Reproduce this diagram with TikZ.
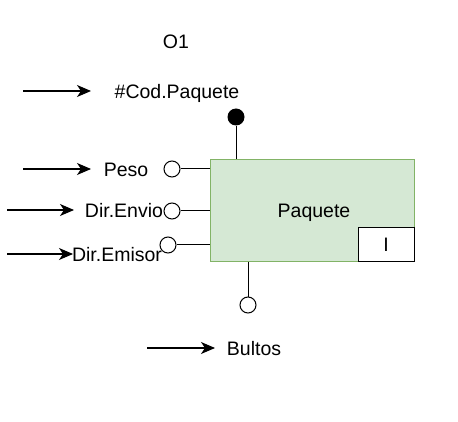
\documentclass[tikz,border=0pt]{standalone}
\usepackage{fontspec}
\setmainfont{Liberation Sans}
\usetikzlibrary{arrows.meta}
\definecolor{verde}{HTML}{D5E8D4}
\definecolor{borde}{HTML}{82B366}
\tikzset{
  etiq/.style={font=\fontsize{19.5}{23}\selectfont, inner sep=0pt},
  puerto/.style={circle, draw, fill=white, line width=1pt, minimum size=16pt, inner sep=0pt},
  flecha/.style={-{Stealth[length=14pt,width=12pt,inset=4pt]}, line width=1.2pt},
}
\begin{document}
\begin{tikzpicture}[x=1pt,y=-1pt]
        \useasboundingbox (0,0) rectangle (458,422);
        \node[etiq] (o1) at (176,42) {O1};
        \node[etiq] (cod) at (177,93) {\#Cod.Paquete};
        \node[etiq] (peso) at (126,170) {Peso};
        \node[etiq] (envio) at (124,211) {Dir.Envio};
        \node[etiq] (emisor) at (117,255) {Dir.Emisor};
        \node[etiq] (bultos) at (254,349) {Bultos};
        \node[draw=borde, fill=verde, line width=1pt, minimum width=204pt, minimum height=102pt] (paquete) at (312,211) {};
        \node[etiq] (nombre) at (314,213) {Paquete};
        \node[etiq, draw, fill=white, line width=1pt, minimum width=56pt, minimum height=34pt] (tipo) at (386,245) {I};
        % atributo clave
        \node[circle, fill=black, minimum size=17pt, inner sep=0pt] (clave) at (236,117) {};
        \draw[line width=1pt] (clave) -- (clave |- paquete.north);
        % atributos
        \node[puerto] (ppeso) at (172,169) {};
        \draw[line width=1pt] (ppeso) -- (paquete.west |- ppeso);
        \node[puerto] (penvio) at (172,211) {};
        \draw[line width=1pt] (penvio) -- (paquete.west |- penvio);
        \node[puerto] (pemisor) at (168,245) {};
        \draw[line width=1pt] (pemisor) -- (paquete.west |- pemisor);
        \node[puerto] (pbultos) at (248,305) {};
        \draw[line width=1pt] (pbultos) -- (pbultos |- paquete.south);
        % flechas
        \coordinate (c1) at (23,91);   \coordinate (c2) at (91,91);
        \draw[flecha] (c1) -- (c2);
        \coordinate (p1) at (23,169);  \coordinate (p2) at (91,169);
        \draw[flecha] (p1) -- (p2);
        \coordinate (v1) at (7,210);   \coordinate (v2) at (74,210);
        \draw[flecha] (v1) -- (v2);
        \coordinate (e1) at (7,254);   \coordinate (e2) at (73,254);
        \draw[flecha] (e1) -- (e2);
        \coordinate (b1) at (147,348); \coordinate (b2) at (215,348);
        \draw[flecha] (b1) -- (b2);
\end{tikzpicture}
\end{document}
